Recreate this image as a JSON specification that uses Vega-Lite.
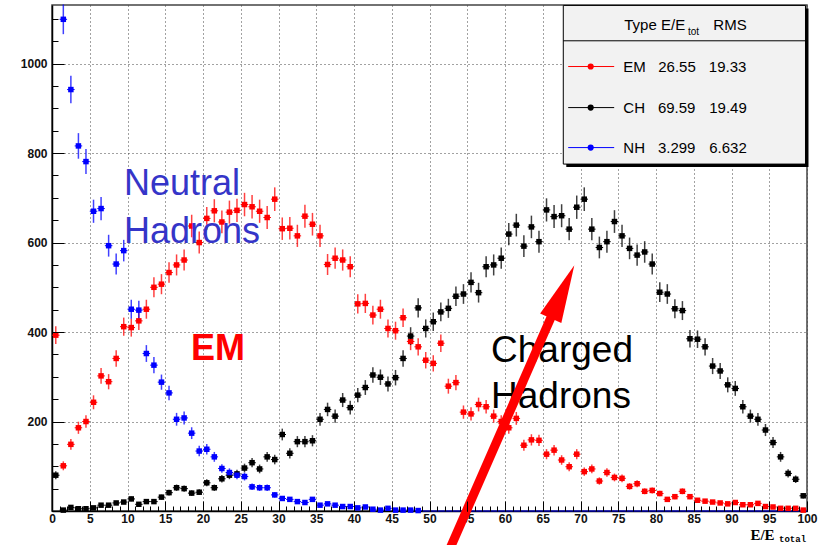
{
  "$schema": "https://vega.github.io/schema/vega-lite/v6.json",
  "width": 755,
  "height": 506,
  "autosize": {"type": "none"},
  "padding": {"left": 52, "top": 5, "right": 14, "bottom": 34},
  "background": "white",
  "config": {
    "view": {"stroke": "#444", "strokeWidth": 1.5},
    "axis": {"title": null, "labelFont": "Liberation Sans", "labelFontWeight": "bold", "labelFontSize": 12, "labelColor": "#111"}
  },
  "datasets": {
    "hist": [
      {"s":"EM","x":0.5,"n":393,"e":19.8},{"s":"EM","x":1.5,"n":101,"e":10.0},{"s":"EM","x":2.5,"n":149,"e":12.2},{"s":"EM","x":3.5,"n":186,"e":13.6},{"s":"EM","x":4.5,"n":200,"e":14.1},
      {"s":"EM","x":5.5,"n":243,"e":15.6},{"s":"EM","x":6.5,"n":302,"e":17.4},{"s":"EM","x":7.5,"n":289,"e":17.0},{"s":"EM","x":8.5,"n":341,"e":18.5},{"s":"EM","x":9.5,"n":412,"e":20.3},
      {"s":"EM","x":10.5,"n":410,"e":20.2},{"s":"EM","x":11.5,"n":425,"e":20.6},{"s":"EM","x":12.5,"n":451,"e":21.2},{"s":"EM","x":13.5,"n":500,"e":22.4},{"s":"EM","x":14.5,"n":507,"e":22.5},
      {"s":"EM","x":15.5,"n":533,"e":23.1},{"s":"EM","x":16.5,"n":550,"e":23.5},{"s":"EM","x":17.5,"n":561,"e":23.7},{"s":"EM","x":18.5,"n":637,"e":25.2},{"s":"EM","x":19.5,"n":600,"e":24.5},
      {"s":"EM","x":20.5,"n":654,"e":25.6},{"s":"EM","x":21.5,"n":671,"e":25.9},{"s":"EM","x":22.5,"n":646,"e":25.4},{"s":"EM","x":23.5,"n":668,"e":25.8},{"s":"EM","x":24.5,"n":672,"e":25.9},
      {"s":"EM","x":25.5,"n":685,"e":26.2},{"s":"EM","x":26.5,"n":680,"e":26.1},{"s":"EM","x":27.5,"n":670,"e":25.9},{"s":"EM","x":28.5,"n":656,"e":25.6},{"s":"EM","x":29.5,"n":697,"e":26.4},
      {"s":"EM","x":30.5,"n":631,"e":25.1},{"s":"EM","x":31.5,"n":632,"e":25.1},{"s":"EM","x":32.5,"n":615,"e":24.8},{"s":"EM","x":33.5,"n":659,"e":25.7},{"s":"EM","x":34.5,"n":641,"e":25.3},
      {"s":"EM","x":35.5,"n":615,"e":24.8},{"s":"EM","x":36.5,"n":551,"e":23.5},{"s":"EM","x":37.5,"n":565,"e":23.8},{"s":"EM","x":38.5,"n":561,"e":23.7},{"s":"EM","x":39.5,"n":546,"e":23.4},
      {"s":"EM","x":40.5,"n":463,"e":21.5},{"s":"EM","x":41.5,"n":464,"e":21.5},{"s":"EM","x":42.5,"n":438,"e":20.9},{"s":"EM","x":43.5,"n":451,"e":21.2},{"s":"EM","x":44.5,"n":408,"e":20.2},
      {"s":"EM","x":45.5,"n":403,"e":20.1},{"s":"EM","x":46.5,"n":432,"e":20.8},{"s":"EM","x":47.5,"n":379,"e":19.5},{"s":"EM","x":48.5,"n":367,"e":19.2},{"s":"EM","x":49.5,"n":337,"e":18.4},
      {"s":"EM","x":50.5,"n":330,"e":18.2},{"s":"EM","x":51.5,"n":375,"e":19.4},{"s":"EM","x":52.5,"n":279,"e":16.7},{"s":"EM","x":53.5,"n":287,"e":16.9},{"s":"EM","x":54.5,"n":221,"e":14.9},
      {"s":"EM","x":55.5,"n":217,"e":14.7},{"s":"EM","x":56.5,"n":238,"e":15.4},{"s":"EM","x":57.5,"n":233,"e":15.3},{"s":"EM","x":58.5,"n":212,"e":14.6},{"s":"EM","x":59.5,"n":200,"e":14.1},
      {"s":"EM","x":60.5,"n":186,"e":13.6},{"s":"EM","x":61.5,"n":207,"e":14.4},{"s":"EM","x":62.5,"n":147,"e":12.1},{"s":"EM","x":63.5,"n":159,"e":12.6},{"s":"EM","x":64.5,"n":158,"e":12.6},
      {"s":"EM","x":65.5,"n":127,"e":11.3},{"s":"EM","x":66.5,"n":136,"e":11.7},{"s":"EM","x":67.5,"n":114,"e":10.7},{"s":"EM","x":68.5,"n":99,"e":9.9},{"s":"EM","x":69.5,"n":127,"e":11.3},
      {"s":"EM","x":70.5,"n":88,"e":9.4},{"s":"EM","x":71.5,"n":94,"e":9.7},{"s":"EM","x":72.5,"n":67,"e":8.2},{"s":"EM","x":73.5,"n":86,"e":9.3},{"s":"EM","x":74.5,"n":75,"e":8.7},
      {"s":"EM","x":75.5,"n":73,"e":8.5},{"s":"EM","x":76.5,"n":55,"e":7.4},{"s":"EM","x":77.5,"n":61,"e":7.8},{"s":"EM","x":78.5,"n":44,"e":6.6},{"s":"EM","x":79.5,"n":46,"e":6.8},
      {"s":"EM","x":80.5,"n":39,"e":6.2},{"s":"EM","x":81.5,"n":26,"e":5.1},{"s":"EM","x":82.5,"n":32,"e":5.7},{"s":"EM","x":83.5,"n":44,"e":6.6},{"s":"EM","x":84.5,"n":32,"e":5.7},
      {"s":"EM","x":85.5,"n":24,"e":4.9},{"s":"EM","x":86.5,"n":22,"e":4.7},{"s":"EM","x":87.5,"n":20,"e":4.5},{"s":"EM","x":88.5,"n":18,"e":4.2},{"s":"EM","x":89.5,"n":16,"e":4.0},
      {"s":"EM","x":90.5,"n":19,"e":4.4},{"s":"EM","x":91.5,"n":14,"e":3.7},{"s":"EM","x":92.5,"n":14,"e":3.7},{"s":"EM","x":93.5,"n":17,"e":4.1},{"s":"EM","x":94.5,"n":10,"e":3.2},
      {"s":"EM","x":95.5,"n":9,"e":3.0},{"s":"EM","x":96.5,"n":6,"e":2.4},{"s":"EM","x":97.5,"n":6,"e":2.4},{"s":"EM","x":98.5,"n":6,"e":2.4},{"s":"EM","x":99.5,"n":2,"e":1.4},

      {"s":"CH","x":0.5,"n":80,"e":8.9},{"s":"CH","x":1.5,"n":2,"e":1.4},{"s":"CH","x":2.5,"n":8,"e":2.8},{"s":"CH","x":3.5,"n":5,"e":2.2},{"s":"CH","x":4.5,"n":5,"e":2.2},
      {"s":"CH","x":5.5,"n":7,"e":2.6},{"s":"CH","x":6.5,"n":13,"e":3.6},{"s":"CH","x":7.5,"n":13,"e":3.6},{"s":"CH","x":8.5,"n":18,"e":4.2},{"s":"CH","x":9.5,"n":20,"e":4.5},
      {"s":"CH","x":10.5,"n":27,"e":5.2},{"s":"CH","x":11.5,"n":15,"e":3.9},{"s":"CH","x":12.5,"n":21,"e":4.6},{"s":"CH","x":13.5,"n":21,"e":4.6},{"s":"CH","x":14.5,"n":31,"e":5.6},
      {"s":"CH","x":15.5,"n":41,"e":6.4},{"s":"CH","x":16.5,"n":52,"e":7.2},{"s":"CH","x":17.5,"n":50,"e":7.1},{"s":"CH","x":18.5,"n":40,"e":6.3},{"s":"CH","x":19.5,"n":42,"e":6.5},
      {"s":"CH","x":20.5,"n":63,"e":7.9},{"s":"CH","x":21.5,"n":52,"e":7.2},{"s":"CH","x":22.5,"n":72,"e":8.5},{"s":"CH","x":23.5,"n":80,"e":8.9},{"s":"CH","x":24.5,"n":83,"e":9.1},
      {"s":"CH","x":25.5,"n":96,"e":9.8},{"s":"CH","x":26.5,"n":108,"e":10.4},{"s":"CH","x":27.5,"n":94,"e":9.7},{"s":"CH","x":28.5,"n":121,"e":11.0},{"s":"CH","x":29.5,"n":115,"e":10.7},
      {"s":"CH","x":30.5,"n":171,"e":13.1},{"s":"CH","x":31.5,"n":129,"e":11.4},{"s":"CH","x":32.5,"n":155,"e":12.4},{"s":"CH","x":33.5,"n":155,"e":12.4},{"s":"CH","x":34.5,"n":157,"e":12.5},
      {"s":"CH","x":35.5,"n":205,"e":14.3},{"s":"CH","x":36.5,"n":227,"e":15.1},{"s":"CH","x":37.5,"n":212,"e":14.6},{"s":"CH","x":38.5,"n":248,"e":15.7},{"s":"CH","x":39.5,"n":231,"e":15.2},
      {"s":"CH","x":40.5,"n":259,"e":16.1},{"s":"CH","x":41.5,"n":276,"e":16.6},{"s":"CH","x":42.5,"n":304,"e":17.4},{"s":"CH","x":43.5,"n":299,"e":17.3},{"s":"CH","x":44.5,"n":284,"e":16.9},
      {"s":"CH","x":45.5,"n":298,"e":17.3},{"s":"CH","x":46.5,"n":341,"e":18.5},{"s":"CH","x":47.5,"n":391,"e":19.8},{"s":"CH","x":48.5,"n":454,"e":21.3},{"s":"CH","x":49.5,"n":408,"e":20.2},
      {"s":"CH","x":50.5,"n":423,"e":20.6},{"s":"CH","x":51.5,"n":445,"e":21.1},{"s":"CH","x":52.5,"n":453,"e":21.3},{"s":"CH","x":53.5,"n":480,"e":21.9},{"s":"CH","x":54.5,"n":485,"e":22.0},
      {"s":"CH","x":55.5,"n":511,"e":22.6},{"s":"CH","x":56.5,"n":488,"e":22.1},{"s":"CH","x":57.5,"n":546,"e":23.4},{"s":"CH","x":58.5,"n":550,"e":23.5},{"s":"CH","x":59.5,"n":565,"e":23.8},
      {"s":"CH","x":60.5,"n":619,"e":24.9},{"s":"CH","x":61.5,"n":639,"e":25.3},{"s":"CH","x":62.5,"n":592,"e":24.3},{"s":"CH","x":63.5,"n":635,"e":25.2},{"s":"CH","x":64.5,"n":602,"e":24.5},
      {"s":"CH","x":65.5,"n":673,"e":25.9},{"s":"CH","x":66.5,"n":658,"e":25.7},{"s":"CH","x":67.5,"n":660,"e":25.7},{"s":"CH","x":68.5,"n":630,"e":25.1},{"s":"CH","x":69.5,"n":679,"e":26.1},
      {"s":"CH","x":70.5,"n":697,"e":26.4},{"s":"CH","x":71.5,"n":630,"e":25.1},{"s":"CH","x":72.5,"n":589,"e":24.3},{"s":"CH","x":73.5,"n":602,"e":24.5},{"s":"CH","x":74.5,"n":647,"e":25.4},
      {"s":"CH","x":75.5,"n":615,"e":24.8},{"s":"CH","x":76.5,"n":587,"e":24.2},{"s":"CH","x":77.5,"n":572,"e":23.9},{"s":"CH","x":78.5,"n":579,"e":24.1},{"s":"CH","x":79.5,"n":552,"e":23.5},
      {"s":"CH","x":80.5,"n":489,"e":22.1},{"s":"CH","x":81.5,"n":485,"e":22.0},{"s":"CH","x":82.5,"n":452,"e":21.3},{"s":"CH","x":83.5,"n":448,"e":21.2},{"s":"CH","x":84.5,"n":385,"e":19.6},
      {"s":"CH","x":85.5,"n":384,"e":19.6},{"s":"CH","x":86.5,"n":367,"e":19.2},{"s":"CH","x":87.5,"n":324,"e":18.0},{"s":"CH","x":88.5,"n":313,"e":17.7},{"s":"CH","x":89.5,"n":282,"e":16.8},
      {"s":"CH","x":90.5,"n":274,"e":16.6},{"s":"CH","x":91.5,"n":233,"e":15.3},{"s":"CH","x":92.5,"n":212,"e":14.6},{"s":"CH","x":93.5,"n":205,"e":14.3},{"s":"CH","x":94.5,"n":181,"e":13.5},
      {"s":"CH","x":95.5,"n":153,"e":12.4},{"s":"CH","x":96.5,"n":121,"e":11.0},{"s":"CH","x":97.5,"n":84,"e":9.2},{"s":"CH","x":98.5,"n":71,"e":8.4},{"s":"CH","x":99.5,"n":34,"e":5.8},

      {"s":"NH","x":1.5,"n":1099,"e":33.2},{"s":"NH","x":2.5,"n":942,"e":30.7},{"s":"NH","x":3.5,"n":816,"e":28.6},{"s":"NH","x":4.5,"n":781,"e":27.9},
      {"s":"NH","x":5.5,"n":670,"e":25.9},{"s":"NH","x":6.5,"n":676,"e":26.0},{"s":"NH","x":7.5,"n":593,"e":24.4},{"s":"NH","x":8.5,"n":552,"e":23.5},{"s":"NH","x":9.5,"n":582,"e":24.1},
      {"s":"NH","x":10.5,"n":451,"e":21.2},{"s":"NH","x":11.5,"n":449,"e":21.2},{"s":"NH","x":12.5,"n":352,"e":18.8},{"s":"NH","x":13.5,"n":326,"e":18.1},{"s":"NH","x":14.5,"n":288,"e":17.0},
      {"s":"NH","x":15.5,"n":264,"e":16.2},{"s":"NH","x":16.5,"n":205,"e":14.3},{"s":"NH","x":17.5,"n":208,"e":14.4},{"s":"NH","x":18.5,"n":174,"e":13.2},{"s":"NH","x":19.5,"n":134,"e":11.6},
      {"s":"NH","x":20.5,"n":138,"e":11.7},{"s":"NH","x":21.5,"n":121,"e":11.0},{"s":"NH","x":22.5,"n":95,"e":9.7},{"s":"NH","x":23.5,"n":86,"e":9.3},{"s":"NH","x":24.5,"n":80,"e":8.9},
      {"s":"NH","x":25.5,"n":77,"e":8.8},{"s":"NH","x":26.5,"n":54,"e":7.3},{"s":"NH","x":27.5,"n":52,"e":7.2},{"s":"NH","x":28.5,"n":52,"e":7.2},{"s":"NH","x":29.5,"n":36,"e":6.0},
      {"s":"NH","x":30.5,"n":28,"e":5.3},{"s":"NH","x":31.5,"n":26,"e":5.1},{"s":"NH","x":32.5,"n":21,"e":4.6},{"s":"NH","x":33.5,"n":19,"e":4.4},{"s":"NH","x":34.5,"n":26,"e":5.1},
      {"s":"NH","x":35.5,"n":13,"e":3.6},{"s":"NH","x":36.5,"n":16,"e":4.0},{"s":"NH","x":37.5,"n":13,"e":3.6},{"s":"NH","x":38.5,"n":10,"e":3.2},{"s":"NH","x":39.5,"n":10,"e":3.2},
      {"s":"NH","x":40.5,"n":7,"e":2.6},{"s":"NH","x":41.5,"n":9,"e":3.0},{"s":"NH","x":42.5,"n":4,"e":2.0},{"s":"NH","x":43.5,"n":2,"e":1.4},{"s":"NH","x":44.5,"n":6,"e":2.4},
      {"s":"NH","x":45.5,"n":2,"e":1.4},{"s":"NH","x":46.5,"n":2,"e":1.4},{"s":"NH","x":47.5,"n":2,"e":1.4},{"s":"NH","x":48.5,"n":1,"e":1.0},{"s":"NH","x":49.5,"n":0,"e":0},
      {"s":"NH","x":50.5,"n":0,"e":0},{"s":"NH","x":51.5,"n":0,"e":0},{"s":"NH","x":52.5,"n":0,"e":0},{"s":"NH","x":53.5,"n":0,"e":0},{"s":"NH","x":54.5,"n":0,"e":0},
      {"s":"NH","x":55.5,"n":0,"e":0},{"s":"NH","x":56.5,"n":0,"e":0},{"s":"NH","x":57.5,"n":0,"e":0},{"s":"NH","x":58.5,"n":0,"e":0},{"s":"NH","x":59.5,"n":0,"e":0},
      {"s":"NH","x":60.5,"n":0,"e":0},{"s":"NH","x":61.5,"n":0,"e":0},{"s":"NH","x":62.5,"n":0,"e":0},{"s":"NH","x":63.5,"n":0,"e":0},{"s":"NH","x":64.5,"n":0,"e":0},
      {"s":"NH","x":65.5,"n":0,"e":0},{"s":"NH","x":66.5,"n":0,"e":0},{"s":"NH","x":67.5,"n":0,"e":0},{"s":"NH","x":68.5,"n":0,"e":0},{"s":"NH","x":69.5,"n":0,"e":0},
      {"s":"NH","x":70.5,"n":0,"e":0},{"s":"NH","x":71.5,"n":0,"e":0},{"s":"NH","x":72.5,"n":0,"e":0},{"s":"NH","x":73.5,"n":0,"e":0},{"s":"NH","x":74.5,"n":0,"e":0},
      {"s":"NH","x":75.5,"n":0,"e":0},{"s":"NH","x":76.5,"n":0,"e":0},{"s":"NH","x":77.5,"n":0,"e":0},{"s":"NH","x":78.5,"n":0,"e":0},{"s":"NH","x":79.5,"n":0,"e":0},
      {"s":"NH","x":80.5,"n":0,"e":0},{"s":"NH","x":81.5,"n":0,"e":0},{"s":"NH","x":82.5,"n":0,"e":0},{"s":"NH","x":83.5,"n":0,"e":0},{"s":"NH","x":84.5,"n":0,"e":0},
      {"s":"NH","x":85.5,"n":0,"e":0},{"s":"NH","x":86.5,"n":0,"e":0},{"s":"NH","x":87.5,"n":0,"e":0},{"s":"NH","x":88.5,"n":0,"e":0},{"s":"NH","x":89.5,"n":0,"e":0},
      {"s":"NH","x":90.5,"n":0,"e":0},{"s":"NH","x":91.5,"n":0,"e":0},{"s":"NH","x":92.5,"n":0,"e":0},{"s":"NH","x":93.5,"n":0,"e":0},{"s":"NH","x":94.5,"n":0,"e":0},
      {"s":"NH","x":95.5,"n":0,"e":0},{"s":"NH","x":96.5,"n":0,"e":0},{"s":"NH","x":97.5,"n":0,"e":0},{"s":"NH","x":98.5,"n":0,"e":0},{"s":"NH","x":99.5,"n":0,"e":0}
    ],
    "legendBox": [{"x0": 67.72, "x1": 99.8, "y0": 1130, "y1": 775.4}],
    "legendSep": [{"x0": 67.72, "x1": 99.8, "y": 1051}],
    "legendRows": [
      {"s": "EM", "x0": 68.37, "x1": 74.46, "xm": 71.35, "y": 993.5},
      {"s": "CH", "x0": 68.37, "x1": 74.46, "xm": 71.35, "y": 901.7},
      {"s": "NH", "x0": 68.37, "x1": 74.46, "xm": 71.35, "y": 812.3}
    ],
    "legendText": [
      {"x": 75.8, "y": 1076, "t": "Type"},
      {"x": 80.66, "y": 1076, "t": "E/E"},
      {"x": 87.59, "y": 1076, "t": "RMS"},
      {"x": 75.67, "y": 981.7, "t": "EM"},
      {"x": 80.3, "y": 981.7, "t": "26.55"},
      {"x": 87.0, "y": 981.7, "t": "19.33"},
      {"x": 75.67, "y": 890, "t": "CH"},
      {"x": 80.25, "y": 890, "t": "69.59"},
      {"x": 87.05, "y": 890, "t": "19.49"},
      {"x": 75.67, "y": 800.7, "t": "NH"},
      {"x": 80.25, "y": 800.7, "t": "3.299"},
      {"x": 87.05, "y": 800.7, "t": "6.632"}
    ],
    "legendSub": [{"x": 84.24, "y": 1065, "t": "tot"}],
    "neutral": [{"x": 9.54, "y": 706, "t": "Neutral"}, {"x": 9.54, "y": 599, "t": "Hadrons"}],
    "em": [{"x": 18.4, "y": 337, "t": "EM"}],
    "charged": [{"x": 58.15, "y": 334, "t": "Charged"}, {"x": 58.15, "y": 230, "t": "Hadrons"}],
    "xTitle": [{"x": 92.5, "y": -64, "t": "E/E"}],
    "xTitleSub": [{"x": 96.3, "y": -69.5, "t": "total"}],
    "arrowShaft": [{"x0": 52.05, "y0": -109.5, "x1": 66.23, "y1": 438}],
    "arrowHead": [{"x": 67.62, "y": 489.9}],
    "one": [{}]
  },
  "layer": [
    {
      "data": {"name": "one"},
      "mark": {"type": "point", "opacity": 0},
      "encoding": {
        "x": {"datum": 0, "type": "quantitative", "scale": {"domain": [0, 100], "nice": false, "zero": false},
          "axis": {"orient": "bottom", "values": [0,5,10,15,20,25,30,35,40,45,50,55,60,65,70,75,80,85,90,95,100], "format": "d", "ticks": false, "labelPadding": 2, "labelFlush": false, "labelOverlap": false,
            "grid": true, "gridColor": "#444", "gridDash": [1, 3], "gridWidth": 1, "domain": true, "domainColor": "#000", "domainWidth": 1.5}},
        "y": {"datum": 0, "type": "quantitative", "scale": {"domain": [0, 1131], "nice": false, "zero": false},
          "axis": {"orient": "left", "values": [200, 400, 600, 800, 1000], "format": "d", "ticks": false, "labelPadding": 5, "labelFlush": false, "labelOverlap": false,
            "grid": true, "gridColor": "#444", "gridDash": [1, 3], "gridWidth": 1, "domain": true, "domainColor": "#000", "domainWidth": 1.5}}
      }
    },
    {
      "data": {"name": "one"},
      "mark": {"type": "point", "opacity": 0},
      "encoding": {
        "x": {"datum": 0, "type": "quantitative", "scale": {"domain": [0, 100], "nice": false, "zero": false},
          "axis": {"orient": "bottom", "values": [0,5,10,15,20,25,30,35,40,45,50,55,60,65,70,75,80,85,90,95,100], "labels": false, "grid": false, "domain": false,
            "ticks": true, "tickSize": -10, "tickColor": "#000", "tickWidth": 1, "zindex": 1}},
        "y": {"datum": 0, "type": "quantitative", "scale": {"domain": [0, 1131], "nice": false, "zero": false},
          "axis": {"orient": "left", "values": [0, 200, 400, 600, 800, 1000], "labels": false, "grid": false, "domain": false,
            "ticks": true, "tickSize": -12, "tickColor": "#000", "tickWidth": 1, "zindex": 1}}
      }
    },
    {
      "data": {"name": "one"},
      "mark": {"type": "point", "opacity": 0},
      "encoding": {
        "x": {"datum": 0, "type": "quantitative", "scale": {"domain": [0, 100], "nice": false, "zero": false},
          "axis": {"orient": "bottom", "values": [0,1,2,3,4,5,6,7,8,9,10,11,12,13,14,15,16,17,18,19,20,21,22,23,24,25,26,27,28,29,30,31,32,33,34,35,36,37,38,39,40,41,42,43,44,45,46,47,48,49,50,51,52,53,54,55,56,57,58,59,60,61,62,63,64,65,66,67,68,69,70,71,72,73,74,75,76,77,78,79,80,81,82,83,84,85,86,87,88,89,90,91,92,93,94,95,96,97,98,99,100],
            "labels": false, "grid": false, "domain": false, "ticks": true, "tickSize": -5, "tickColor": "#000", "tickWidth": 1, "zindex": 1}},
        "y": {"datum": 0, "type": "quantitative", "scale": {"domain": [0, 1131], "nice": false, "zero": false},
          "axis": {"orient": "left", "values": [0,50,100,150,200,250,300,350,400,450,500,550,600,650,700,750,800,850,900,950,1000,1050,1100],
            "labels": false, "grid": false, "domain": false, "ticks": true, "tickSize": -6, "tickColor": "#000", "tickWidth": 1, "zindex": 1}}
      }
    },
    {
      "data": {"name": "hist"},
      "mark": {"type": "errorbar", "ticks": false, "thickness": 1.5, "rule": {"opacity": 0.75}},
      "encoding": {
        "x": {"field": "x", "type": "quantitative", "axis": null, "scale": {"domain": [0, 100], "nice": false, "zero": false}},
        "y": {"field": "n", "type": "quantitative", "axis": null, "scale": {"domain": [0, 1131], "nice": false, "zero": false}},
        "yError": {"field": "e"},
        "color": {"field": "s", "type": "nominal", "scale": {"domain": ["EM", "CH", "NH"], "range": ["#ff0000", "#000000", "#0000ff"]}, "legend": null}
      }
    },
    {
      "data": {"name": "hist"},
      "mark": {"type": "tick", "orient": "horizontal", "size": 7.5, "thickness": 1, "opacity": 1},
      "encoding": {
        "x": {"field": "x", "type": "quantitative", "axis": null},
        "y": {"field": "n", "type": "quantitative", "axis": null},
        "color": {"field": "s", "type": "nominal", "legend": null}
      }
    },
    {
      "data": {"name": "hist"},
      "transform": [{"filter": "datum.n > 0"}],
      "mark": {"type": "square", "size": 30, "opacity": 1},
      "encoding": {
        "x": {"field": "x", "type": "quantitative", "axis": null},
        "y": {"field": "n", "type": "quantitative", "axis": null},
        "color": {"field": "s", "type": "nominal", "legend": null}
      }
    },
    {
      "data": {"name": "neutral"},
      "mark": {"type": "text", "align": "left", "baseline": "alphabetic", "font": "Liberation Sans", "fontSize": 36, "color": "#3535c8"},
      "encoding": {
        "x": {"field": "x", "type": "quantitative", "axis": null},
        "y": {"field": "y", "type": "quantitative", "axis": null},
        "text": {"field": "t"}
      }
    },
    {
      "data": {"name": "em"},
      "mark": {"type": "text", "align": "left", "baseline": "alphabetic", "font": "Liberation Sans", "fontWeight": "bold", "fontSize": 36, "color": "#ff0000"},
      "encoding": {
        "x": {"field": "x", "type": "quantitative", "axis": null},
        "y": {"field": "y", "type": "quantitative", "axis": null},
        "text": {"field": "t"}
      }
    },
    {
      "data": {"name": "charged"},
      "mark": {"type": "text", "align": "left", "baseline": "alphabetic", "font": "Liberation Sans", "fontSize": 37, "color": "#000000"},
      "encoding": {
        "x": {"field": "x", "type": "quantitative", "axis": null},
        "y": {"field": "y", "type": "quantitative", "axis": null},
        "text": {"field": "t"}
      }
    },
    {
      "data": {"name": "legendBox"},
      "mark": {"type": "rect", "color": "#000", "xOffset": 3, "x2Offset": 3, "yOffset": 3, "y2Offset": 3},
      "encoding": {
        "x": {"field": "x0", "type": "quantitative", "axis": null},
        "x2": {"field": "x1"},
        "y": {"field": "y0", "type": "quantitative", "axis": null},
        "y2": {"field": "y1"}
      }
    },
    {
      "data": {"name": "legendBox"},
      "mark": {"type": "rect", "fill": "#f2f2f2", "stroke": "#000", "strokeWidth": 1},
      "encoding": {
        "x": {"field": "x0", "type": "quantitative", "axis": null},
        "x2": {"field": "x1"},
        "y": {"field": "y0", "type": "quantitative", "axis": null},
        "y2": {"field": "y1"}
      }
    },
    {
      "data": {"name": "legendSep"},
      "mark": {"type": "rule", "color": "#000", "strokeWidth": 1},
      "encoding": {
        "x": {"field": "x0", "type": "quantitative", "axis": null},
        "x2": {"field": "x1"},
        "y": {"field": "y", "type": "quantitative", "axis": null}
      }
    },
    {
      "data": {"name": "legendRows"},
      "mark": {"type": "rule", "strokeWidth": 1},
      "encoding": {
        "x": {"field": "x0", "type": "quantitative", "axis": null},
        "x2": {"field": "x1"},
        "y": {"field": "y", "type": "quantitative", "axis": null},
        "color": {"field": "s", "type": "nominal", "legend": null}
      }
    },
    {
      "data": {"name": "legendRows"},
      "mark": {"type": "circle", "size": 38, "opacity": 1},
      "encoding": {
        "x": {"field": "xm", "type": "quantitative", "axis": null},
        "y": {"field": "y", "type": "quantitative", "axis": null},
        "color": {"field": "s", "type": "nominal", "legend": null}
      }
    },
    {
      "data": {"name": "legendText"},
      "mark": {"type": "text", "align": "left", "baseline": "alphabetic", "font": "Liberation Sans", "fontSize": 15, "color": "#000"},
      "encoding": {
        "x": {"field": "x", "type": "quantitative", "axis": null},
        "y": {"field": "y", "type": "quantitative", "axis": null},
        "text": {"field": "t"}
      }
    },
    {
      "data": {"name": "legendSub"},
      "mark": {"type": "text", "align": "left", "baseline": "alphabetic", "font": "Liberation Sans", "fontSize": 10, "color": "#000"},
      "encoding": {
        "x": {"field": "x", "type": "quantitative", "axis": null},
        "y": {"field": "y", "type": "quantitative", "axis": null},
        "text": {"field": "t"}
      }
    },
    {
      "data": {"name": "xTitle"},
      "mark": {"type": "text", "align": "left", "baseline": "alphabetic", "font": "Liberation Serif", "fontWeight": "bold", "fontSize": 15, "color": "#000"},
      "encoding": {
        "x": {"field": "x", "type": "quantitative", "axis": null},
        "y": {"field": "y", "type": "quantitative", "axis": null},
        "text": {"field": "t"}
      }
    },
    {
      "data": {"name": "xTitleSub"},
      "mark": {"type": "text", "align": "left", "baseline": "alphabetic", "font": "Liberation Mono", "fontWeight": "bold", "fontSize": 9, "color": "#000"},
      "encoding": {
        "x": {"field": "x", "type": "quantitative", "axis": null},
        "y": {"field": "y", "type": "quantitative", "axis": null},
        "text": {"field": "t"}
      }
    },
    {
      "data": {"name": "arrowShaft"},
      "mark": {"type": "rule", "color": "#ff0000", "strokeWidth": 9, "strokeCap": "butt"},
      "encoding": {
        "x": {"field": "x0", "type": "quantitative", "axis": null},
        "y": {"field": "y0", "type": "quantitative", "axis": null},
        "x2": {"field": "x1"},
        "y2": {"field": "y1"}
      }
    },
    {
      "data": {"name": "arrowHead"},
      "mark": {"type": "point", "shape": "M0,-1L0.4,1L-0.4,1Z", "size": 3364, "angle": 24, "filled": true, "color": "#ff0000", "opacity": 1, "strokeWidth": 0},
      "encoding": {
        "x": {"field": "x", "type": "quantitative", "axis": null},
        "y": {"field": "y", "type": "quantitative", "axis": null}
      }
    }
  ],
  "resolve": {"axis": {"x": "independent", "y": "independent"}}
}
